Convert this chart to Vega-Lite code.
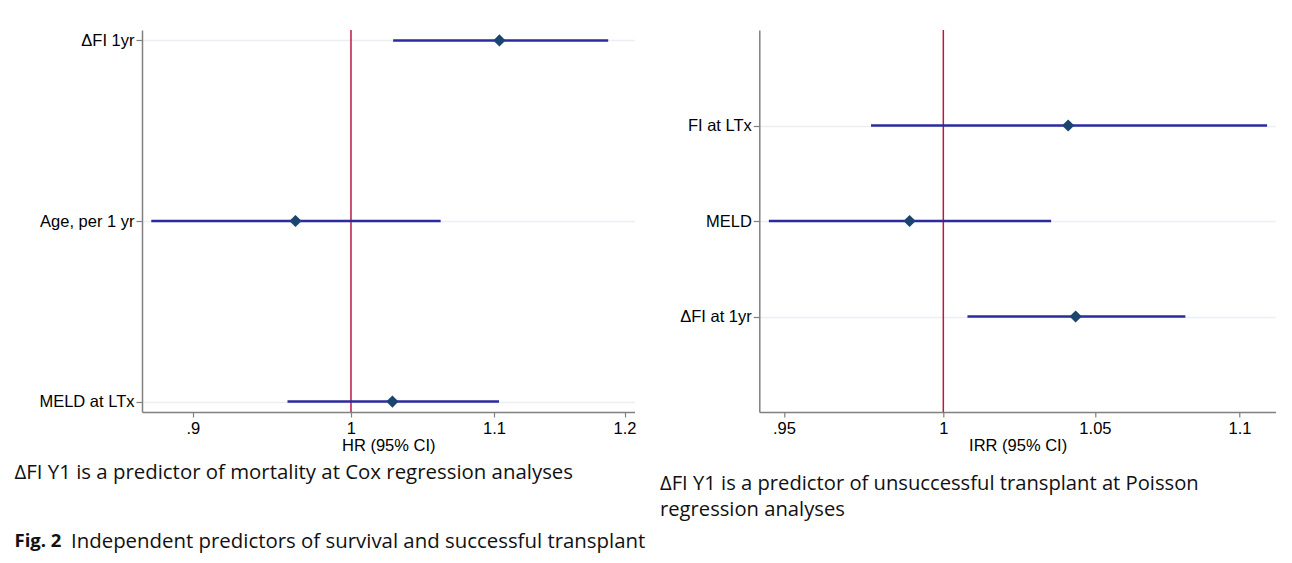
{
  "$schema": "https://vega.github.io/schema/vega-lite/v6.json",
  "padding": {"left": 14, "top": 29, "right": 0, "bottom": 14},
  "background": "white",
  "config": {
    "view": {"stroke": null},
    "axis": {
      "labelFont": "Liberation Sans", "titleFont": "Liberation Sans",
      "labelFontSize": 16.5, "titleFontSize": 16.5,
      "labelColor": "#000000", "titleColor": "#000000", "titleFontWeight": "normal",
      "domainColor": "#808080", "tickColor": "#808080", "domainWidth": 1.5, "tickWidth": 1.2
    },
    "title": {"font": "Open Sans", "fontWeight": "normal", "color": "#111111", "anchor": "start", "orient": "bottom", "frame": "group"}
  },
  "columns": 2,
  "bounds": "flush",
  "spacing": {"row": 121, "column": 124.3},
  "concat": [
    {
      "width": 492.5, "height": 382,
      "title": {"text": "ΔFI Y1 is a predictor of mortality at Cox regression analyses", "fontSize": 20.4, "dx": -127.5, "offset": 9},
      "data": {"values": [
        {"label": "ΔFI 1yr", "est": 1.104, "lo": 1.0285, "hi": 1.187},
        {"label": "Age, per 1 yr", "est": 0.9637, "lo": 0.8754, "hi": 1.0616},
        {"label": "MELD at LTx", "est": 1.028, "lo": 0.9586, "hi": 1.1037}
      ]},
      "layer": [
        {
          "data": {"values": [{"ref": 1}]},
          "mark": {"type": "rule", "color": "#c8506e", "strokeWidth": 2},
          "encoding": {
            "x": {"field": "ref", "type": "quantitative",
              "scale": {"type": "log", "domain": [0.870, 1.208], "nice": false, "zero": false},
              "axis": {"values": [0.9, 1, 1.1, 1.2], "format": ".2~f", "labelExpr": "datum.value < 1 ? substring(datum.label, 1) : datum.label", "title": "HR (95% CI)", "grid": false, "tickSize": 5, "labelPadding": 3, "titlePadding": 1, "labelFlush": false, "labelOverlap": false}}
          }
        },
        {
          "mark": {"type": "rule", "color": "#2b2b9e", "strokeWidth": 2.5},
          "encoding": {
            "x": {"field": "lo", "type": "quantitative"},
            "x2": {"field": "hi"},
            "y": {"field": "label", "type": "nominal", "sort": null,
              "scale": {"type": "point", "padding": 0.058},
              "axis": {"title": null, "grid": true, "gridColor": "#eceef1", "gridWidth": 1.5, "tickSize": 6, "labelPadding": 2}}
          }
        },
        {
          "mark": {"type": "point", "shape": "diamond", "filled": true, "size": 150, "color": "#1b4470", "opacity": 1},
          "encoding": {
            "x": {"field": "est", "type": "quantitative"},
            "y": {"field": "label", "type": "nominal", "sort": null}
          }
        }
      ]
    },
    {
      "width": 516.7, "height": 382,
      "title": {"text": ["ΔFI Y1 is a predictor of unsuccessful transplant at Poisson", "regression analyses"], "fontSize": 20.2, "lineHeight": 26, "dx": -99.3, "offset": 19.5},
      "data": {"values": [
        {"label": "FI at LTx", "est": 1.041, "lo": 0.977, "hi": 1.1098},
        {"label": "MELD", "est": 0.9892, "lo": 0.9454, "hi": 1.0353},
        {"label": "ΔFI at 1yr", "est": 1.0435, "lo": 1.0078, "hi": 1.081}
      ]},
      "layer": [
        {
          "data": {"values": [{"ref": 1}]},
          "mark": {"type": "rule", "color": "#c0183c", "strokeWidth": 1.5},
          "encoding": {
            "x": {"field": "ref", "type": "quantitative",
              "scale": {"type": "log", "domain": [0.9425, 1.113], "nice": false, "zero": false},
              "axis": {"values": [0.95, 1, 1.05, 1.1], "format": ".2~f", "labelExpr": "datum.value < 1 ? substring(datum.label, 1) : datum.label", "title": "IRR (95% CI)", "grid": false, "tickSize": 5, "labelPadding": 3, "titlePadding": 1, "labelFlush": false, "labelOverlap": false}}
          }
        },
        {
          "mark": {"type": "rule", "color": "#2b2b9e", "strokeWidth": 2.5},
          "encoding": {
            "x": {"field": "lo", "type": "quantitative"},
            "x2": {"field": "hi"},
            "y": {"field": "label", "type": "nominal", "sort": null,
              "scale": {"type": "point", "padding": 1.099},
              "axis": {"title": null, "grid": true, "gridColor": "#eceef1", "gridWidth": 1.5, "tickSize": 6, "labelPadding": 2}}
          }
        },
        {
          "mark": {"type": "point", "shape": "diamond", "filled": true, "size": 150, "color": "#1b4470", "opacity": 1},
          "encoding": {
            "x": {"field": "est", "type": "quantitative"},
            "y": {"field": "label", "type": "nominal", "sort": null}
          }
        }
      ]
    },
    {
      "width": 1, "height": 1,
      "data": {"values": []},
      "mark": {"type": "point"},
      "encoding": {},
      "title": {"text": "Fig. 2", "fontWeight": "bold", "fontSize": 18.5, "dx": -127.5, "offset": -2}
    },
    {
      "width": 1, "height": 1,
      "data": {"values": []},
      "mark": {"type": "point"},
      "encoding": {},
      "title": {"text": "Independent predictors of survival and successful transplant", "fontSize": 20.4, "dx": -688.3, "offset": -2.5}
    }
  ]
}
